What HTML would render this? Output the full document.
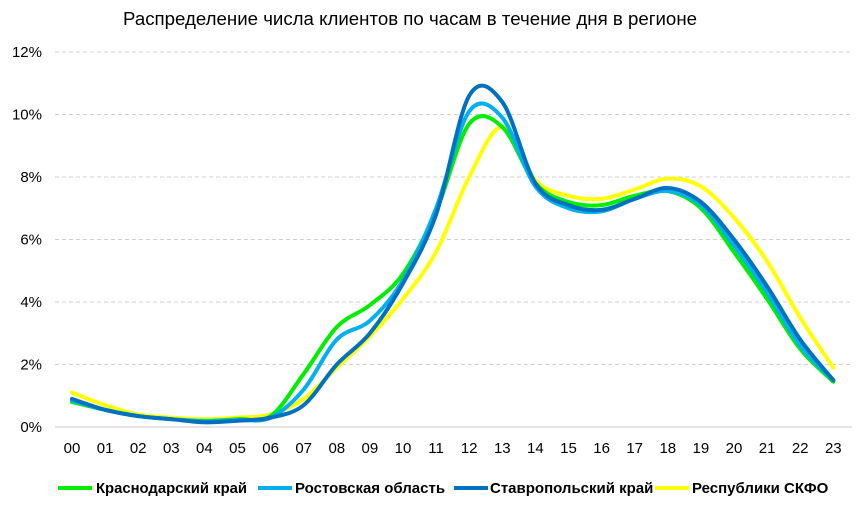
<!DOCTYPE html>
<html><head><meta charset="utf-8"><style>
body{margin:0;background:#fff;}
svg{display:block;font-family:"Liberation Sans Narrow","Liberation Sans",sans-serif;}
</style></head><body>
<svg id="c" width="867" height="506" xmlns="http://www.w3.org/2000/svg">
<rect width="867" height="506" fill="#fff"/>
<text x="123" y="25" font-size="18" textLength="574" lengthAdjust="spacingAndGlyphs" fill="#000" font-family="Liberation Sans, sans-serif">Распределение числа клиентов по часам в течение дня в регионе</text>
<g id="grid"></g>
<g id="lines" fill="none" stroke-width="4" stroke-linejoin="round" stroke-linecap="round"></g>
<g font-size="15" fill="#000" font-family="Liberation Sans, sans-serif">
<line x1="58" y1="488" x2="92" y2="488" stroke="#00ee00" stroke-width="4"/>
<text x="96" y="493" font-weight="bold" textLength="151" lengthAdjust="spacingAndGlyphs">Краснодарский край</text>
<line x1="258" y1="488" x2="292" y2="488" stroke="#00b0f0" stroke-width="4"/>
<text x="295" y="493" font-weight="bold">Ростовская область</text>
<line x1="454" y1="488" x2="488" y2="488" stroke="#0070c0" stroke-width="4"/>
<text x="490" y="493" font-weight="bold">Ставропольский край</text>
<line x1="655" y1="488" x2="689" y2="488" stroke="#ffff00" stroke-width="4"/>
<text x="692" y="493" font-weight="bold">Республики СКФО</text>
</g>
</svg>
<script>
const NS="http://www.w3.org/2000/svg";
const g=document.getElementById('grid'),L=document.getElementById('lines');
const X=i=>72+i*33.1, Y=v=>427-v*31.25;
function el(t,a,p){const e=document.createElementNS(NS,t);for(const k in a)e.setAttribute(k,a[k]);p.appendChild(e);return e;}
for(let v=0;v<=12;v+=2){
 if(v>0) el('line',{x1:55,x2:852,y1:Y(v),y2:Y(v),stroke:'#d0d0d0','stroke-dasharray':'4,3'},g);
 const t=el('text',{x:42,y:Y(v)+5,'font-size':15,'text-anchor':'end'},g);t.textContent=v+'%';
}
el('line',{x1:55,x2:852,y1:427,y2:427,stroke:'#c8c8c8'},g);
for(let i=0;i<24;i++){const t=el('text',{x:X(i),y:453,'font-size':15,'text-anchor':'middle'},g);t.textContent=(i<10?'0':'')+i;}
const D=[
['#ffff00',[1.1,0.7,0.4,0.3,0.25,0.3,0.4,0.9,1.9,2.9,4.1,5.6,8.0,9.6,7.9,7.4,7.3,7.6,7.95,7.7,6.7,5.3,3.5,1.9]],
['#00ee00',[0.8,0.55,0.35,0.25,0.2,0.25,0.35,1.7,3.2,3.9,4.9,6.9,9.7,9.6,7.8,7.2,7.1,7.4,7.55,7.0,5.6,4.1,2.5,1.45]],
['#00b0f0',[0.85,0.55,0.35,0.25,0.18,0.22,0.3,1.2,2.8,3.4,4.7,7.0,10.1,9.9,7.7,7.0,6.9,7.3,7.55,7.1,5.8,4.3,2.6,1.5]],
['#0070c0',[0.9,0.55,0.35,0.25,0.15,0.2,0.3,0.7,2.0,3.0,4.6,6.8,10.6,10.4,7.8,7.1,6.95,7.3,7.65,7.2,6.0,4.5,2.8,1.5]]];
D.forEach(([c,v])=>{
 const p=v.map((y,i)=>[X(i),Y(y)]);let d='M'+p[0];
 for(let i=0;i<p.length-1;i++){const a=p[Math.max(i-1,0)],b=p[i],e=p[i+1],f=p[Math.min(i+2,p.length-1)];
  d+='C'+(b[0]+(e[0]-a[0])/6)+','+(b[1]+(e[1]-a[1])/6)+' '+(e[0]-(f[0]-b[0])/6)+','+(e[1]-(f[1]-b[1])/6)+' '+e;}
 el('path',{d:d,stroke:c},L);
});
</script>
</body></html>
